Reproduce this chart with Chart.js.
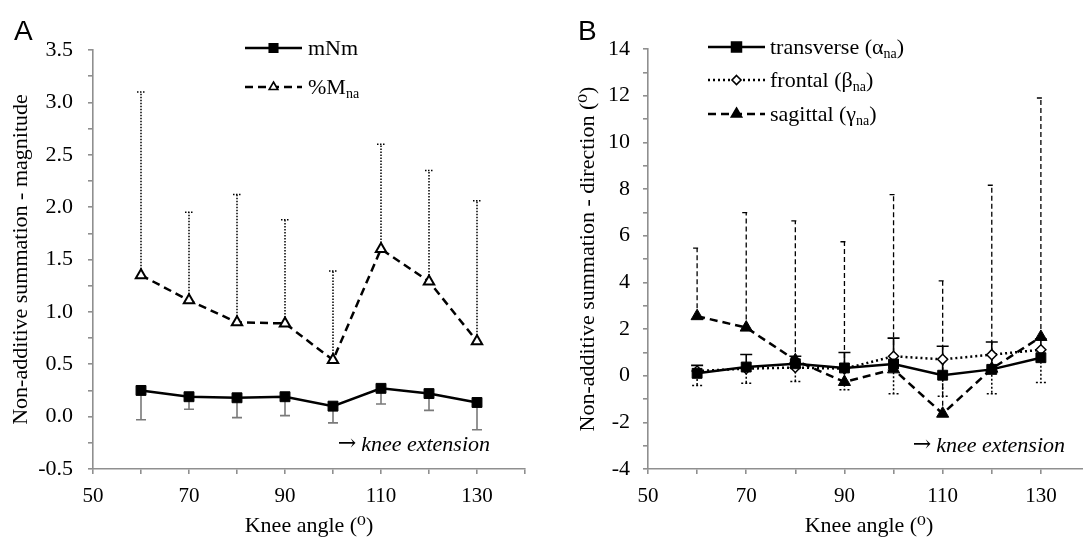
<!DOCTYPE html>
<html lang="en">
<head>
  <meta charset="UTF-8" />
  <title>Non-additive summation vs knee angle</title>
  <script src="https://cdn.jsdelivr.net/npm/chart.js"></script>
  <style>
    html, body { margin: 0; padding: 0; background: #fff; }
    #wrap { position: relative; width: 1083px; height: 539px; overflow: hidden; }
    .panel { position: absolute; top: 0; height: 539px; overflow: hidden; }
    #panelA { left: 0; width: 540px; }
    #panelB { left: 540px; width: 543px; }
  </style>
</head>
<body>
  <div id="wrap">
    <div class="panel" id="panelA"><canvas id="chartA" width="540" height="539"></canvas></div>
    <!-- panel B is cut at the right edge like the original figure -->
    <div class="panel" id="panelB"><canvas id="chartB" width="560" height="539"></canvas></div>
  </div>

  <script>
    // knee angles (deg)
    const kneeAngles = [60, 70, 80, 90, 100, 110, 120, 130];

    // panel A - magnitude
    const mNm      = [0.25, 0.19, 0.18, 0.19, 0.10, 0.27, 0.22, 0.135];
    const mNmSD    = [0.28, 0.12, 0.19, 0.18, 0.16, 0.15, 0.16, 0.26];   // drawn downward
    const pctMna   = [1.35, 1.11, 0.90, 0.89, 0.54, 1.60, 1.29, 0.72];
    const pctMnaSD = [1.75, 0.84, 1.22, 0.99, 0.85, 1.00, 1.06, 1.34];   // drawn upward

    // panel B - direction (deg)
    const transverse   = [0.10, 0.37, 0.51, 0.33, 0.50, 0.02, 0.27, 0.77];
    const transverseSD = [0.34, 0.54, 0.32, 0.66, 1.11, 1.24, 1.17, 0.80];  // up
    const frontal      = [0.20, 0.30, 0.35, 0.30, 0.83, 0.70, 0.90, 1.11];
    const frontalSD    = [0.62, 0.62, 0.60, 0.90, 1.60, 1.58, 1.67, 1.40];  // down
    const sagittal     = [2.55, 2.06, 0.66, -0.27, 0.27, -1.63, 0.30, 1.66];
    const sagittalSD   = [2.92, 4.93, 5.97, 6.01, 7.49, 5.69, 7.86, 10.24]; // up

    // axis ranges / tick steps
    const xRange = [50, 140], xStep = 10, xLabelEvery = 20;
    const yRangeA = [-0.5, 3.5], yStepA = 0.25, yLabelEveryA = 0.5;
    const yRangeB = [-4, 14], yStepB = 1, yLabelEveryB = 2;

    const axisGrey = '#8f8f8f';
    const serif = "'Liberation Serif', 'DejaVu Serif', serif";
    const onEvery = (v, every) => Math.abs(v / every - Math.round(v / every)) < 1e-6;
    const pts = arr => kneeAngles.map((x, i) => ({ x: x, y: arr[i] }));

    // one-sided error bars, drawn through the chart scales
    const errorBars = {
      id: 'errorBars',
      beforeDatasetsDraw(chart) {
        const { ctx, scales: { x, y } } = chart;
        chart.data.datasets.forEach(ds => {
          const e = ds.errBar;
          if (!e) return;
          ctx.save();
          ctx.strokeStyle = e.color;
          ctx.lineWidth = e.width;
          ctx.setLineDash(e.dash);
          ds.data.forEach((p, j) => {
            const px = x.getPixelForValue(p.x);
            const y0 = y.getPixelForValue(p.y);
            const y1 = y.getPixelForValue(p.y + e.dir * e.sd[j]);
            ctx.beginPath();
            ctx.moveTo(px, y0); ctx.lineTo(px, y1);
            ctx.moveTo(px - e.cap, y1); ctx.lineTo(px + e.cap, y1);
            ctx.stroke();
          });
          ctx.restore();
        });
      }
    };

    function drawMarker(ctx, style, cx, cy, r, filled) {
      ctx.beginPath();
      if (style === 'rect') {
        const s = r * Math.SQRT1_2;
        ctx.rect(cx - s, cy - s, 2 * s, 2 * s);
      } else if (style === 'triangle') {
        ctx.moveTo(cx, cy - r);
        ctx.lineTo(cx + r * 0.866, cy + r * 0.5);
        ctx.lineTo(cx - r * 0.866, cy + r * 0.5);
        ctx.closePath();
      } else {
        ctx.moveTo(cx, cy - r); ctx.lineTo(cx + r, cy);
        ctx.lineTo(cx, cy + r); ctx.lineTo(cx - r, cy);
        ctx.closePath();
      }
      ctx.fillStyle = filled ? '#000' : '#fff';
      ctx.fill();
      ctx.lineWidth = 1.6;
      ctx.strokeStyle = '#000';
      ctx.stroke();
    }

    // letter, legend with subscripts and the "knee extension" note
    function panelDecor(letter, letterX, legend, noteRight, noteY) {
      return {
        id: 'panelDecor',
        afterDraw(chart) {
          const ctx = chart.ctx;
          ctx.save();
          ctx.fillStyle = '#000';
          ctx.textBaseline = 'alphabetic';
          ctx.font = "28px 'Liberation Sans', Arial, sans-serif";
          ctx.fillText(letter, letterX, 40);

          legend.forEach(it => {
            ctx.save();
            ctx.strokeStyle = '#000';
            ctx.lineWidth = 2.5;
            ctx.setLineDash(it.dash);
            ctx.beginPath(); ctx.moveTo(it.x1, it.y); ctx.lineTo(it.x2, it.y); ctx.stroke();
            ctx.setLineDash([]);
            drawMarker(ctx, it.style, (it.x1 + it.x2) / 2, it.y, it.r, it.filled);
            ctx.restore();
            let tx = it.tx;
            it.parts.forEach(p => {
              ctx.font = (p.sub ? '14px ' : '22px ') + serif;
              ctx.fillText(p.t, tx, it.y + 7 + (p.sub ? 4 : 0));
              tx += ctx.measureText(p.t).width;
            });
          });

          ctx.textAlign = 'right';
          ctx.font = 'italic 22px ' + serif;
          const txt = 'knee extension';
          ctx.fillText(txt, noteRight, noteY);
          const w = ctx.measureText(txt).width;
          ctx.font = "22px 'DejaVu Serif', serif";
          ctx.fillText('\u2192', noteRight - w - 5, noteY - 1);
          ctx.restore();
        }
      };
    }

    function makeScales(yRange, yStep, yEvery, yDec, yWidth, xHeight, yTitle, yTitlePad, yPad) {
      return {
        x: {
          type: 'linear', min: xRange[0], max: xRange[1],
          afterFit: s => { s.height = xHeight; },
          border: { color: axisGrey, width: 1.6 },
          grid: { drawOnChartArea: false, color: axisGrey, lineWidth: 1.6, tickLength: 5 },
          ticks: {
            stepSize: xStep, autoSkip: false, maxRotation: 0, padding: 10, color: '#000',
            font: { family: serif, size: 21 },
            callback: v => (onEvery(v - xRange[0], xLabelEvery) ? v : '')
          },
          title: {
            display: true, text: 'Knee angle (\u2070)', color: '#000',
            font: { family: serif, size: 22 }, padding: { top: 0, bottom: 0 }
          }
        },
        y: {
          type: 'linear', min: yRange[0], max: yRange[1],
          afterFit: s => { s.width = yWidth; },
          border: { color: axisGrey, width: 1.6 },
          grid: { drawOnChartArea: false, color: axisGrey, lineWidth: 1.6, tickLength: 5 },
          ticks: {
            stepSize: yStep, autoSkip: false, padding: yPad, color: '#000',
            font: { family: serif, size: 22 },
            callback: v => (onEvery(v, yEvery) ? v.toFixed(yDec) : '')
          },
          title: {
            display: true, text: yTitle, color: '#000',
            font: { family: serif, size: 22 }, padding: { top: yTitlePad, bottom: 0 }
          }
        }
      };
    }

    const baseOpts = {
      responsive: false,
      devicePixelRatio: 1,
      animation: false,
      plugins: { legend: { display: false }, tooltip: { enabled: false } }
    };

    new Chart(document.getElementById('chartA'), {
      type: 'line',
      data: {
        datasets: [
          {
            label: 'mNm', data: pts(mNm),
            borderColor: '#000', borderWidth: 2.5,
            pointStyle: 'rect', pointRadius: 7, pointBorderWidth: 1,
            pointBackgroundColor: '#000', pointBorderColor: '#000',
            errBar: { sd: mNmSD, dir: -1, color: '#7a7a7a', width: 1.6, dash: [], cap: 5 }
          },
          {
            label: '%Mna', data: pts(pctMna),
            borderColor: '#000', borderWidth: 2.5, borderDash: [8, 5],
            pointStyle: 'triangle', pointRadius: 6, pointBackgroundColor: '#fff',
            pointBorderColor: '#000', pointBorderWidth: 2,
            errBar: { sd: pctMnaSD, dir: 1, color: '#000', width: 1.5, dash: [1.5, 1.5], cap: 4 }
          }
        ]
      },
      options: Object.assign({}, baseOpts, {
        layout: { padding: { top: 50, right: 15, left: 0, bottom: 0 } },
        scales: makeScales(yRangeA, yStepA, yLabelEveryA, 1, 93, 70, 'Non-additive summation - magnitude', 8, 15)
      }),
      plugins: [errorBars, panelDecor('A', 14, [
        { y: 48, x1: 245, x2: 302, tx: 308, dash: [], style: 'rect', r: 6, filled: true,
          parts: [{ t: 'mNm' }] },
        { y: 87, x1: 245, x2: 302, tx: 308, dash: [8, 5], style: 'triangle', r: 5, filled: false,
          parts: [{ t: '%M' }, { t: 'na', sub: true }] }
      ], 490, 451)]
    });

    new Chart(document.getElementById('chartB'), {
      type: 'line',
      data: {
        datasets: [
          {
            label: 'transverse', data: pts(transverse),
            borderColor: '#000', borderWidth: 2.5,
            pointStyle: 'rect', pointRadius: 7, pointBorderWidth: 1,
            pointBackgroundColor: '#000', pointBorderColor: '#000',
            errBar: { sd: transverseSD, dir: 1, color: '#000', width: 1.6, dash: [], cap: 6 }
          },
          {
            label: 'frontal', data: pts(frontal),
            borderColor: '#000', borderWidth: 2.5, borderDash: [2, 3],
            pointStyle: 'rectRot', pointRadius: 5, pointBackgroundColor: '#fff',
            pointBorderColor: '#000', pointBorderWidth: 1.5,
            errBar: { sd: frontalSD, dir: -1, color: '#000', width: 1.5, dash: [2, 2], cap: 5 }
          },
          {
            label: 'sagittal', data: pts(sagittal),
            borderColor: '#000', borderWidth: 2.5, borderDash: [8, 5],
            pointStyle: 'triangle', pointRadius: 7, pointBorderWidth: 1,
            pointBackgroundColor: '#000', pointBorderColor: '#000',
            errBar: { sd: sagittalSD, dir: 1, color: '#000', width: 1.3, dash: [5, 3], cap: 4 }
          }
        ]
      },
      options: Object.assign({}, baseOpts, {
        layout: { padding: { top: 49, right: 9, left: 0, bottom: 0 } },
        scales: makeScales(yRangeB, yStepB, yLabelEveryB, 0, 108, 70, 'Non-additive summation - direction (\u2070)', 35, 13)
      }),
      plugins: [errorBars, panelDecor('B', 38, [
        { y: 47, x1: 708, x2: 765, tx: 770, dash: [], style: 'rect', r: 7, filled: true,
          parts: [{ t: 'transverse (\u03b1' }, { t: 'na', sub: true }, { t: ')' }] },
        { y: 80, x1: 708, x2: 765, tx: 770, dash: [2, 3], style: 'rectRot', r: 4.5, filled: false,
          parts: [{ t: 'frontal (\u03b2' }, { t: 'na', sub: true }, { t: ')' }] },
        { y: 114, x1: 708, x2: 765, tx: 770, dash: [8, 5], style: 'triangle', r: 6, filled: true,
          parts: [{ t: 'sagittal (\u03b3' }, { t: 'na', sub: true }, { t: ')' }] }
      ].map(it => Object.assign(it, { x1: it.x1 - 540, x2: it.x2 - 540, tx: it.tx - 540 })), 1065 - 540, 452)]
    });
  </script>
</body>
</html>
